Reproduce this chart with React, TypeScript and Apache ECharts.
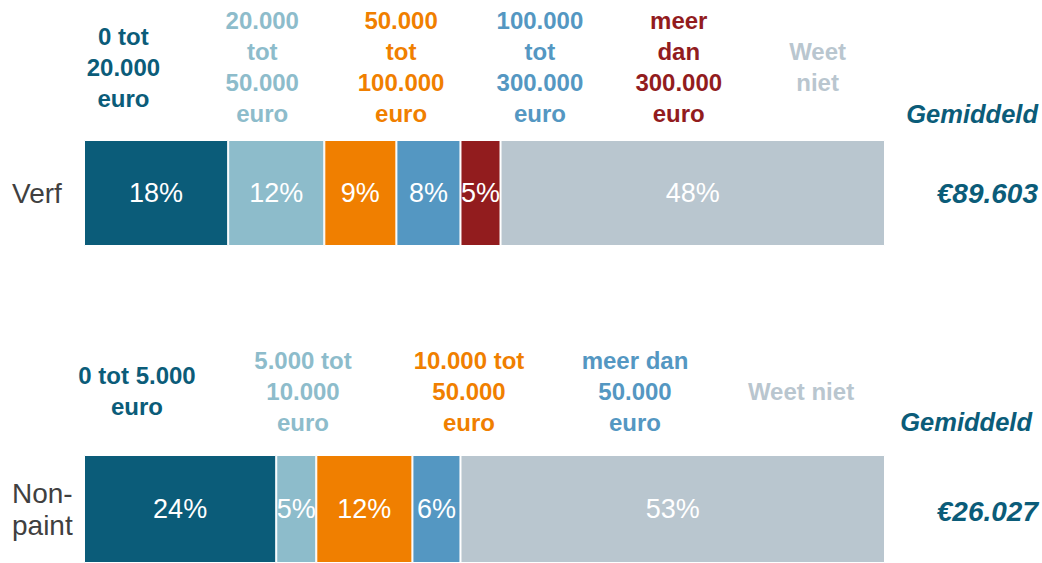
import React, { useEffect, useRef } from "react";
import * as echarts from "echarts";

const groups = ["Verf", "Non-\npaint"];
const verfHeaders = [
  "0 tot\n20.000\neuro",
  "20.000\ntot\n50.000\neuro",
  "50.000\ntot\n100.000\neuro",
  "100.000\ntot\n300.000\neuro",
  "meer\ndan\n300.000\neuro",
  "Weet\nniet",
];
const verfValues = [18, 12, 9, 8, 5, 48];
const nonPaintHeaders = [
  "0 tot 5.000\neuro",
  "5.000 tot\n10.000\neuro",
  "10.000 tot\n50.000\neuro",
  "meer dan\n50.000\neuro",
  "Weet niet",
];
const nonPaintValues = [24, 5, 12, 6, 53];
const averages = ["€89.603", "€26.027"];
const averageTitle = "Gemiddeld";

const verfColors = ["#0b5c79", "#8dbccb", "#f07f00", "#5497c2", "#921c1e", "#b9c6cf"];
const nonPaintColors = ["#0b5c79", "#8dbccb", "#f07f00", "#5497c2", "#b9c6cf"];

const FONT = "'Liberation Sans', Arial, Helvetica, sans-serif";

export default function App() {
  const ref = useRef<HTMLDivElement>(null);
  useEffect(() => {
    document.body.style.margin = "0";
    if (!ref.current) return;
    const chart = echarts.init(ref.current, undefined, { renderer: "svg" });

    const grids = [
      { left: 84, width: 801, top: 140, height: 106 },
      { left: 84, width: 801, top: 455, height: 109 },
    ];
    const valuesSets = [verfValues, nonPaintValues];
    const colorSets = [verfColors, nonPaintColors];
    const headerSets = [verfHeaders, nonPaintHeaders];
    const headerY = [67, 391];
    const avgTitleY = [114, 422];
    const avgTitleX = [1038, 1032];
    const avgY = [193, 511];

    const series: any[] = [];
    valuesSets.forEach((vals, g) => {
      vals.forEach((v, i) => {
        series.push({
          type: "bar",
          name: `g${g}s${i}`,
          xAxisIndex: g,
          yAxisIndex: g,
          stack: `stack${g}`,
          barWidth: "100%",
          data: [v],
          itemStyle: { color: colorSets[g][i], borderColor: "#ffffff", borderWidth: 1 },
          label: {
            show: true,
            position: "inside",
            formatter: "{c}%",
            color: "#ffffff",
            fontSize: 27,
            fontFamily: FONT,
          },
          emphasis: { disabled: true },
        });
      });
    });

    const graphics: any[] = [];
    headerSets.forEach((heads, g) => {
      const left = 54;
      const span = g === 0 ? 833 : 830;
      heads.forEach((h, i) => {
        graphics.push({
          type: "text",
          x: left + ((i + 0.5) * span) / heads.length,
          y: headerY[g],
          style: {
            text: h,
            align: "center",
            verticalAlign: "middle",
            fontSize: 24,
            fontWeight: "bold",
            fontFamily: FONT,
            lineHeight: 31,
            fill: colorSets[g][i],
          },
        });
      });
      graphics.push({
        type: "text",
        x: avgTitleX[g],
        y: avgTitleY[g],
        style: {
          text: averageTitle,
          align: "right",
          verticalAlign: "middle",
          fontSize: 25.5,
          fontWeight: "bold",
          fontStyle: "italic",
          fontFamily: FONT,
          fill: "#0b5c79",
        },
      });
      graphics.push({
        type: "text",
        x: 1038,
        y: avgY[g],
        style: {
          text: averages[g],
          align: "right",
          verticalAlign: "middle",
          fontSize: 28,
          fontWeight: "bold",
          fontStyle: "italic",
          fontFamily: FONT,
          fill: "#0b5c79",
        },
      });
    });

    chart.setOption({
      animation: false,
      grid: grids,
      xAxis: grids.map((_, g) => ({
        type: "value",
        gridIndex: g,
        min: 0,
        max: 100,
        show: false,
      })),
      yAxis: grids.map((_, g) => ({
        type: "category",
        gridIndex: g,
        data: [groups[g]],
        axisLine: { show: false },
        axisTick: { show: false },
        splitLine: { show: false },
        axisLabel: {
          align: "left",
          margin: 72,
          fontSize: 28,
          lineHeight: 32,
          color: "#404040",
          fontFamily: FONT,
        },
      })),
      series,
      graphic: graphics,
    });
    return () => chart.dispose();
  }, []);
  return <div ref={ref} style={{ width: 1042, height: 563 }} />;
}
